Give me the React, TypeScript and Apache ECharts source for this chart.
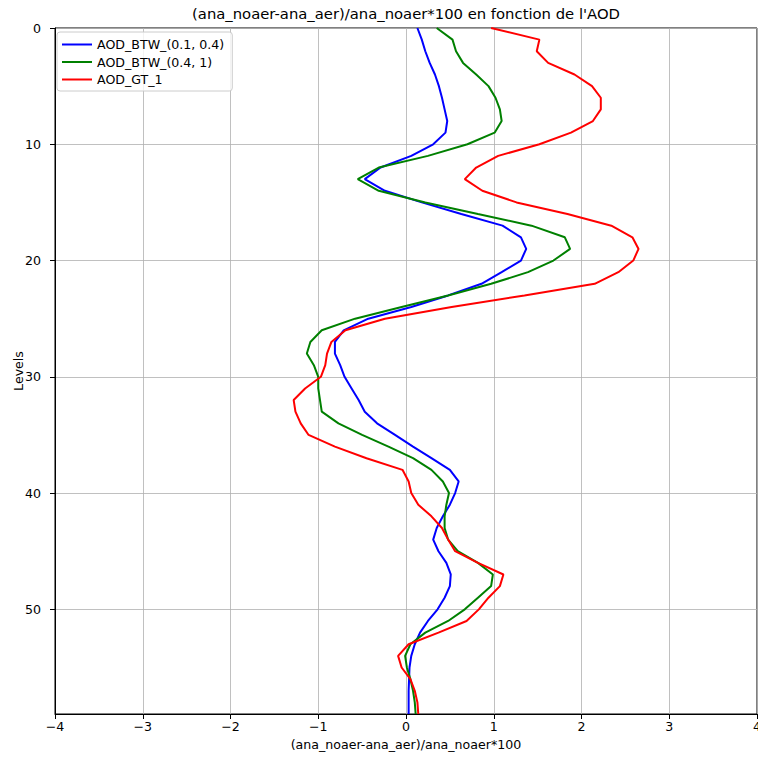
import React, { useEffect, useRef } from "react";
import * as echarts from "echarts";

const levels = [
  0, 1, 2, 3, 4, 5, 6, 7, 8, 9, 10, 11, 12, 13, 14, 15, 16, 17, 18, 19,
  20, 21, 22, 23, 24, 25, 26, 27, 28, 29, 30, 31, 32, 33, 34, 35, 36, 37, 38, 39,
  40, 41, 42, 43, 44, 45, 46, 47, 48, 49, 50, 51, 52, 53, 54, 55, 56, 57, 58, 59,
];

const aodLow = [
  0.13, 0.18, 0.22, 0.27, 0.33, 0.375, 0.41, 0.44, 0.47, 0.45,
  0.31, 0.06, -0.29, -0.47, -0.24, 0.18, 0.63, 1.1, 1.31, 1.37,
  1.31, 1.09, 0.86, 0.48, 0.06, -0.43, -0.71, -0.81, -0.81, -0.75,
  -0.7, -0.62, -0.54, -0.47, -0.33, -0.125, 0.08, 0.29, 0.5, 0.6,
  0.56, 0.5, 0.42, 0.35, 0.31, 0.37, 0.46, 0.51, 0.5, 0.44,
  0.36, 0.25, 0.16, 0.1, 0.06, 0.04, 0.035, 0.03, 0.03, 0.03,
];

const aodMid = [
  0.35, 0.53, 0.57, 0.65, 0.8, 0.94, 1.02, 1.07, 1.09, 1.01,
  0.7, 0.25, -0.31, -0.55, -0.31, 0.22, 0.82, 1.43, 1.81, 1.87,
  1.68, 1.39, 0.97, 0.48, -0.05, -0.58, -0.96, -1.09, -1.13, -1.05,
  -1.0, -1.0, -0.98, -0.96, -0.77, -0.5, -0.2, 0.08, 0.29, 0.42,
  0.49, 0.46, 0.44, 0.44, 0.48, 0.59, 0.82, 0.99, 0.97, 0.82,
  0.67, 0.48, 0.22, 0.05, -0.01, 0.01, 0.05, 0.08, 0.1, 0.11,
];

const aodHigh = [
  0.97, 1.52, 1.49, 1.62, 1.92, 2.12, 2.22, 2.22, 2.13, 1.88,
  1.52, 1.05, 0.8, 0.67, 0.87, 1.26, 1.84, 2.34, 2.58, 2.65,
  2.59, 2.42, 2.15, 1.35, 0.52, -0.24, -0.69, -0.85, -0.9, -0.92,
  -0.97, -1.15, -1.28, -1.26, -1.2, -1.11, -0.81, -0.45, -0.04, 0.03,
  0.06, 0.14, 0.29, 0.41, 0.48, 0.56, 0.82, 1.11, 1.07, 0.94,
  0.83, 0.69, 0.37, 0.03, -0.09, -0.05, 0.05, 0.1, 0.13, 0.14,
];

const seriesNames = ["AOD_BTW_(0.1, 0.4)", "AOD_BTW_(0.4, 1)", "AOD_GT_1"];
const seriesColors = ["#0000ff", "#008000", "#ff0000"];
const seriesValues = [aodLow, aodMid, aodHigh];

const xTicks = [-4, -3, -2, -1, 0, 1, 2, 3, 4];
const yTicks = [0, 10, 20, 30, 40, 50];

const titleText = "(ana_noaer-ana_aer)/ana_noaer*100 en fonction de l'AOD";
const xLabel = "(ana_noaer-ana_aer)/ana_noaer*100";
const yLabel = "Levels";

const FONT = "DejaVu Sans";
const LABEL_SIZE = 12.6;

export default function App() {
  const ref = useRef<HTMLDivElement>(null);

  useEffect(() => {
    document.body.style.margin = "0";
    if (!ref.current) return;
    const chart = echarts.init(ref.current, null, { renderer: "svg" });
    const fmtX = (v: number) => {
      if (!xTicks.includes(v)) return "";
      return v < 0 ? "\u2212" + Math.abs(v) : String(v);
    };
    chart.setOption({
      animation: false,
      backgroundColor: "#ffffff",
      title: {
        text: titleText,
        left: 406,
        top: 6,
        textAlign: "center",
        padding: 0,
        textStyle: {
          fontFamily: FONT,
          fontSize: 14.8,
          fontWeight: "normal",
          color: "#000",
        },
      },
      legend: {
        orient: "vertical",
        left: 57,
        top: 32,
        padding: [5, 8, 4, 5],
        itemGap: 2.5,
        itemWidth: 30,
        itemHeight: 2,
        icon: "rect",
        backgroundColor: "rgba(255,255,255,0.8)",
        borderColor: "#cccccc",
        borderWidth: 1,
        borderRadius: 3,
        data: seriesNames,
        textStyle: {
          fontFamily: FONT,
          fontSize: LABEL_SIZE,
          lineHeight: 15,
          color: "#000",
        },
      },
      grid: {
        left: 55,
        top: 28,
        width: 702,
        height: 686,
        outerBoundsMode: "none",
        containLabel: false,
        show: true,
        borderColor: "#000",
        borderWidth: 1,
        backgroundColor: "transparent",
      },
      xAxis: {
        type: "value",
        min: -4,
        max: 4,
        interval: 1,
        name: xLabel,
        nameLocation: "middle",
        nameGap: 24,
        nameMoveOverlap: false,
        nameTextStyle: { fontFamily: FONT, fontSize: LABEL_SIZE, color: "#000" },
        axisLine: { show: true, onZero: false, lineStyle: { color: "#000", width: 1 } },
        axisTick: { show: true, length: 5, lineStyle: { color: "#000" } },
        axisLabel: {
          fontFamily: FONT,
          fontSize: LABEL_SIZE,
          color: "#000",
          margin: 6,
          formatter: fmtX,
        },
        splitLine: { show: true, lineStyle: { color: "#b0b0b0", width: 0.8 } },
      },
      yAxis: {
        type: "value",
        inverse: true,
        min: 0,
        max: 59,
        interval: 10,
        name: yLabel,
        nameLocation: "middle",
        nameGap: 30,
        nameRotate: 90,
        nameMoveOverlap: false,
        nameTextStyle: { fontFamily: FONT, fontSize: LABEL_SIZE, color: "#000" },
        axisLine: { show: true, onZero: false, lineStyle: { color: "#000", width: 1 } },
        axisTick: { show: true, length: 5, lineStyle: { color: "#000" } },
        axisLabel: {
          fontFamily: FONT,
          fontSize: LABEL_SIZE,
          color: "#000",
          margin: 14,
          showMaxLabel: false,
          formatter: (v: number) => (yTicks.includes(v) ? String(v) : ""),
        },
        splitLine: { show: true, lineStyle: { color: "#b0b0b0", width: 0.8 } },
      },
      series: seriesNames.map((name, i) => ({
        name,
        type: "line",
        symbol: "none",
        color: seriesColors[i],
        lineStyle: { color: seriesColors[i], width: 2 },
        data: seriesValues[i].map((v, k) => [v, levels[k]]),
      })),
    });
    return () => chart.dispose();
  }, []);

  return (
    <div
      ref={ref}
      style={{ position: "fixed", left: 0, top: 0, width: 758, height: 758 }}
    />
  );
}
